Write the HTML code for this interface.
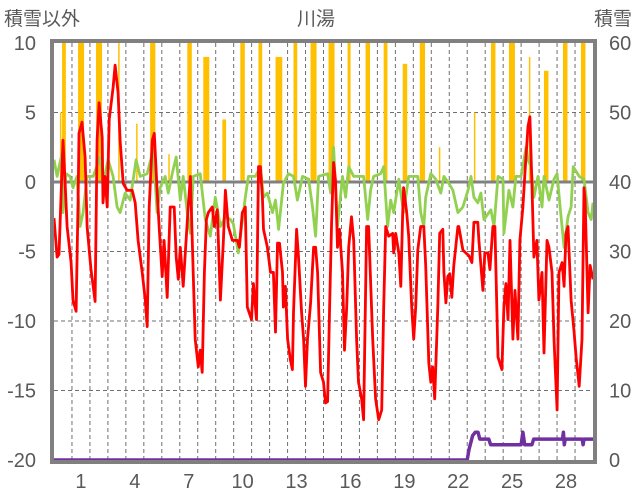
<!DOCTYPE html>
<html><head><meta charset="utf-8">
<style>
html,body{margin:0;padding:0;background:#fff;}
svg{display:block;font-family:"Liberation Sans","Noto Sans CJK JP",sans-serif;}
</style></head>
<body>
<svg id="chart" width="636" height="501" viewBox="0 0 636 501" xmlns="http://www.w3.org/2000/svg">
<g id="grid"></g>
<g id="bars"></g>
<g id="lines"></g>
<g id="axes"></g>
<text x="4" y="25" font-size="19" fill="#595959">積雪以外</text>
<text x="316" y="25" font-size="19" fill="#595959" text-anchor="middle">川湯</text>
<text x="632" y="25" font-size="19" fill="#595959" text-anchor="end">積雪</text>
</svg>
<script>
const leftTicks=[10,5,0,-5,-10,-15,-20];
const rightTicks=[60,50,40,30,20,10,0];
const dayLabels=[1,4,7,10,13,16,19,22,25,28];
const redT=[0,0.17,0.28,0.5,0.61,0.73,0.95,1.06,1.23,1.34,1.39,1.56,1.73,1.84,2.06,2.18,2.29,2.4,2.51,2.68,2.73,2.84,2.96,3.07,3.29,3.4,3.57,3.68,3.85,4.07,4.35,4.52,4.68,4.91,5.08,5.19,5.3,5.47,5.58,5.74,5.86,6.02,6.13,6.3,6.47,6.69,6.8,6.92,7.03,7.19,7.31,7.47,7.59,7.75,7.86,8.03,8.14,8.25,8.37,8.48,8.59,8.81,8.92,9.09,9.26,9.43,9.54,9.7,9.93,10.21,10.32,10.48,10.65,10.76,10.99,11.1,11.27,11.38,11.49,11.6,11.66,11.88,12.05,12.21,12.33,12.44,12.55,12.72,12.77,12.88,13,13.16,13.27,13.33,13.5,13.61,13.78,13.89,14,14.11,14.28,14.45,14.56,14.67,14.84,15,15.11,15.23,15.34,15.45,15.56,15.67,15.78,15.89,16.06,16.17,16.29,16.4,16.56,16.68,16.84,16.95,17.12,17.23,17.4,17.51,17.74,17.9,18.07,18.24,18.35,18.46,18.63,18.85,18.91,19.02,19.19,19.3,19.41,19.46,19.63,19.74,19.91,20.02,20.13,20.25,20.41,20.58,20.69,20.86,20.97,21.08,21.19,21.36,21.47,21.64,21.7,21.81,21.92,22.03,22.14,22.25,22.48,22.53,22.76,22.92,23.09,23.26,23.37,23.59,23.65,23.87,23.98,24.15,24.26,24.43,24.54,24.71,24.93,25.04,25.15,25.27,25.38,25.54,25.66,25.82,25.93,26.1,26.21,26.38,26.49,26.6,26.71,26.88,26.99,27.16,27.27,27.44,27.55,27.72,27.83,28,28.11,28.28,28.39,28.5,28.61,28.78,28.95,29.06,29.23,29.39,29.5,29.56,29.73,29.84,30];
const redV=[-2.6,-5.4,-5.2,3.0,0.1,-3.2,-5.8,-8.5,-9.3,-1.3,3.5,4.3,1.8,-3.2,-6.3,-7.5,-8.6,3.0,5.7,3.2,-1.5,0.4,-1.8,4.5,6.8,8.4,6.4,3.0,-0.1,-0.6,-0.6,-1.5,-4.2,-6.5,-8.5,-10.4,-1.8,3.0,3.5,-0.6,-3.4,-6.8,-4.2,-8.3,-1.8,-1.8,-5.4,-7.0,-4.7,-7.5,-5.1,-1.8,0.4,-6.5,-11.3,-13.3,-12.1,-13.7,-6.5,-2.7,-2.2,-1.8,-3.2,-2.0,-8.5,-4.2,-0.6,-3.2,-4.2,-4.2,-4.7,-2.2,-1.8,-9.0,-9.9,-7.3,-9.9,1.1,1.1,-1.1,-3.4,-4.7,-6.5,-6.5,-10.8,-4.4,-4.4,-6.5,-9.0,-7.5,-11.3,-12.8,-13.5,-9.4,-3.4,-5.4,-9.4,-11.3,-14.7,-11.3,-8.7,-4.7,-4.7,-6.5,-13.7,-14.4,-15.9,-15.8,-9.0,-2.9,1.4,0.1,-4.7,-3.4,-6.5,-12.1,-9.0,-4.7,-2.5,-4.2,-11.3,-14.4,-15.6,-17.1,-3.2,-3.2,-11.3,-15.6,-17.1,-16.4,-9.0,-3.2,-3.9,-3.7,-5.1,-3.7,-5.1,-7.5,-2.2,-0.4,-2.2,-3.9,-9.0,-11.3,-9.0,-4.9,-3.2,-3.2,-6.0,-13.0,-14.4,-13.3,-15.6,-9.0,-3.7,-3.4,-6.5,-8.7,-6.8,-6.6,-8.3,-6.0,-3.2,-3.2,-4.9,-5.1,-5.3,-5.8,-2.9,-2.9,-4.2,-7.8,-5.1,-5.1,-6.3,-3.2,-3.2,-12.6,-13.5,-9.0,-7.3,-9.9,-4.2,-11.3,-7.8,-11.3,-4.2,-1.8,0.6,4.0,4.7,-0.1,-5.4,-4.2,-8.5,-6.5,-12.3,-4.2,-4.7,-6.5,-11.3,-16.4,-6.5,-5.8,-7.5,-3.7,-3.2,-8.5,-10.8,-12.6,-14.7,-11.3,-0.4,-1.3,-9.4,-6.0,-7.0];
const greenT=[0,0.17,0.45,0.5,0.67,0.89,1.06,1.28,1.45,1.62,1.84,2.18,2.57,2.73,3.01,3.29,3.51,3.68,3.96,4.24,4.57,4.8,5.19,5.52,5.74,5.91,6.19,6.36,6.58,6.8,7.03,7.19,7.42,7.59,7.75,8.14,8.42,8.7,8.98,9.26,9.54,9.82,9.98,10.26,10.65,10.82,11.21,11.49,11.66,11.88,12.16,12.33,12.5,12.77,13.05,13.33,13.55,13.83,14.17,14.39,14.56,14.73,15.23,15.4,15.56,15.78,16.06,16.23,16.4,16.68,17.23,17.46,17.62,17.79,18.18,18.35,18.57,18.74,18.91,19.19,19.46,19.74,20.25,20.41,20.58,20.69,20.97,21.25,21.53,21.7,21.98,22.2,22.48,22.76,23.04,23.21,23.37,23.59,23.76,23.93,24.32,24.49,24.71,24.99,25.04,25.32,25.54,25.71,25.99,26.16,26.27,26.38,26.55,26.71,26.94,27.16,27.27,27.55,27.83,28,28.17,28.39,28.61,28.78,28.9,29.23,29.5,29.73,29.9,30];
const greenV=[1.6,0.4,2.1,-2.2,0.6,0.4,-0.4,0.4,-3.2,-2.2,0.4,0.4,1.8,-0.1,1.6,0.4,-1.8,-2.2,-0.8,-1.3,1.6,0.4,0.6,2.3,-2.2,-0.4,0.4,-0.8,0.6,1.8,-1.3,0.4,-2.2,-3.7,0.4,0.6,-2.7,-3.9,-1.1,-3.2,-2.5,-2.7,-3.0,-5.1,-1.1,0.4,0.4,1.1,-1.1,-0.8,-2.2,-1.3,-3.4,-0.1,0.6,0.4,-1.3,0.4,0.2,-1.8,-3.9,0.4,0.6,-0.8,2.5,-3.2,0.4,-1.1,1.1,0.4,0.4,-2.7,-0.6,0.4,0.6,1.1,-3.2,-1.3,-2.2,0.2,-2.2,0.4,0.4,-2.2,-3.2,-1.1,0.6,0.2,-0.8,0.4,-0.1,-0.6,-2.2,-1.8,-0.6,0.4,-1.1,-1.5,-0.8,-2.7,-2.0,-3.2,0.4,0.2,-3.7,-0.6,-1.8,0.4,0.4,1.6,2.5,1.6,1.1,-1.1,0.4,-1.8,0.4,-1.3,0.2,0.6,-1.8,-4.7,-2.5,-1.8,1.1,0.4,0.2,-2.2,-2.7,-1.5];
const barStart=[0.33,0.45,1.34,2.34,3.57,4.57,5.35,6.36,7.42,8.31,9.37,10.37,11.38,12.33,13.33,14.28,15.28,16.34,17.34,18.35,19.41,20.36,21.42,23.37,24.32,25.32,26.43,27.27,28.33,29.33];
const barHours=[1,5,8,8,1,1,7,1,6,8,5,6,5,9,5,8,8,4,6,5,6,7,1,2,6,8,2,6,6,6];
const barValue=[5,10,10,10,10,4.2,10,2,10,9,4.5,10,10,9,10,10,10,10,10,10,8.5,10,2.5,5,10,10,9,8,10,10];
const snowT=[0,23.0,23.1,23.3,23.45,23.6,23.7,24.2,24.3,26.0,26.1,26.2,26.6,26.7,28.3,28.35,28.4,28.45,29.4,29.45,29.5,30];
const snowV=[0,0,1.5,3.5,4,4,3,3,2.2,2.2,4,2.2,2.2,3,3,4,2.2,3,3,2.2,3,3];

const NS='http://www.w3.org/2000/svg';
const L=54,R=593,T=43,B=460,DAYS=30;
const xs=t=>L+(R-L)*t/DAYS;
const yl=v=>T+(10-v)*(B-T)/30;
const yr=v=>B-v*(B-T)/60;
function mk(tag,attrs,parent){const e=document.createElementNS(NS,tag);for(const k in attrs)e.setAttribute(k,attrs[k]);parent.appendChild(e);return e;}
const grid=document.getElementById('grid'),bars=document.getElementById('bars'),lines=document.getElementById('lines'),axes=document.getElementById('axes');
for(let d=1;d<DAYS;d++){
  const l=mk('line',{x1:xs(d),x2:xs(d),y1:T,y2:B,stroke:'#6f6f6f','stroke-width':1,'stroke-dasharray':'4,3'},grid);
  
  
}
leftTicks.forEach(v=>{
  if(v!==0&&v!==10&&v!==-20){
    const l=mk('line',{x1:L,x2:R,y1:yl(v),y2:yl(v),stroke:'#6f6f6f','stroke-width':1,'stroke-dasharray':'4,3'},grid);
    
    
  }
  const t=mk('text',{x:36,y:yl(v)+7,'font-size':20,fill:'#595959','text-anchor':'end'},axes);
  t.textContent=v;
  
  
});
rightTicks.forEach(v=>{
  const t=mk('text',{x:609,y:yr(v)+7,'font-size':20,fill:'#595959'},axes);
  t.textContent=v;
  
  
});
dayLabels.forEach(d=>{
  const t=mk('text',{x:xs(d+0.5),y:488,'font-size':20,fill:'#595959','text-anchor':'middle'},axes);
  t.textContent=d;
  
  
});
barStart.forEach((s,i)=>{
  const v=Math.min(barValue[i],10);
  const w=Math.max(xs(s+barHours[i]/24)-xs(s),1.5);
  const r=mk('rect',{x:xs(s),y:yl(v),width:w,height:yl(0)-yl(v),fill:'#FFC000'},bars);
  
  
});
function path(ts,vs,yf,color,w,name){
  const d=ts.map((t,i)=>(i?'L':'M')+xs(t).toFixed(1)+','+yf(vs[i]).toFixed(1)).join('');
  const p=mk('path',{d:d,fill:'none',stroke:color,'stroke-width':w,'stroke-linejoin':'round'},lines);
  
  
}
const zero=mk('line',{x1:L,x2:R,y1:yl(0),y2:yl(0),stroke:'#808080','stroke-width':3},lines);


path(greenT,greenV,yl,'#92D050',2.8,'green-series');
path(redT,redV,yl,'#FF0000',2.8,'red-series');
path(snowT,snowV,yr,'#7030A0',3.5,'snow-depth-series');
const fr=mk('rect',{x:L-2,y:T-2,width:R-L+4,height:B-T+4,fill:'none',stroke:'#808080','stroke-width':4},axes);


</script>
</body></html>
